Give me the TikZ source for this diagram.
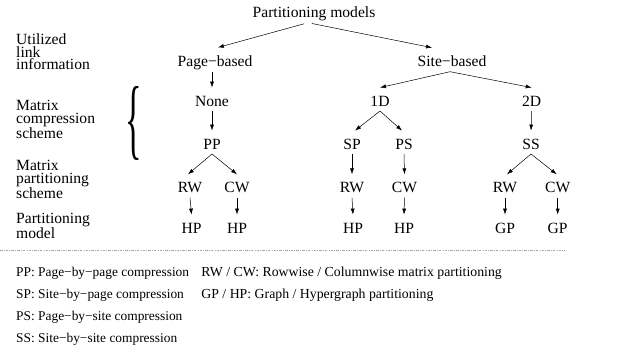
\documentclass[tikz,border=0pt]{standalone}
\usepackage{fontspec}
\usepackage{graphicx}
\setmainfont{Liberation Serif}
\usetikzlibrary{arrows.meta}
\begin{document}
\begin{tikzpicture}[x=1pt,y=-1pt,
  treenode/.style={inner xsep=1pt, inner ysep=2pt, text height=16.2pt, text depth=2.8pt,
    anchor=base, font=\fontsize{15.6}{15.6}\selectfont},
  rowlabel/.style={inner sep=0pt, anchor=north west, align=left,
    font=\fontsize{15.6}{12.4}\selectfont},
  legend/.style={inner sep=0pt, anchor=base west, font=\fontsize{13.8}{13.8}\selectfont},
  legendnarrow/.style={legend, font=\fontsize{13.4}{13.4}\selectfont},
  link/.style={line width=0.5pt, -{Latex[length=6pt,width=4pt]}},
  sep/.style={line width=0.6pt, gray!70, dash pattern=on 2.5pt off 1.2pt on 0.8pt off 1.2pt}
]
\useasboundingbox (0,0) rectangle (629,353);

% row labels
\node[rowlabel] (r1) at (16,33.6) {Utilized\\link\\information};
\node[rowlabel] (r2) at (16,100.3) {Matrix\\compression\\scheme};
\node[rowlabel] (r3) at (16,160.3) {Matrix\\partitioning\\scheme};
\node[rowlabel] (r4) at (16,212.6) {Partitioning\\model};

% brace grouping the compression levels
\node[inner sep=0pt] (br) at (133.3,123.3) {\resizebox{16.5pt}{62pt}{\{}};

% tree
\node[treenode] (pm) at (314,17.7) {Partitioning models};
\node[treenode] (pb) at (215,66.7) {Page−based};
\node[treenode] (sb) at (452,66.7) {Site−based};
\node[treenode] (none) at (212,106) {None};
\node[treenode] (d1) at (380,106) {1D};
\node[treenode] (d2) at (531.7,106) {2D};
\node[treenode] (pp) at (212,149) {PP};
\node[treenode] (sp) at (352,149) {SP};
\node[treenode] (ps) at (404,149) {PS};
\node[treenode] (ss) at (531,149) {SS};
\node[treenode] (rw1) at (190,192.7) {RW};
\node[treenode] (cw1) at (237,192.7) {CW};
\node[treenode] (rw2) at (352,192.7) {RW};
\node[treenode] (cw2) at (404.5,192.7) {CW};
\node[treenode] (rw3) at (505,192.7) {RW};
\node[treenode] (cw3) at (557.7,192.7) {CW};
\node[treenode] (hp1) at (191.5,233) {HP};
\node[treenode] (hp2) at (237,233) {HP};
\node[treenode] (hp3) at (353,233) {HP};
\node[treenode] (hp4) at (404,233) {HP};
\node[treenode] (gp1) at (505,233) {GP};
\node[treenode] (gp2) at (557.7,233) {GP};

\draw[link, shorten <=4pt, shorten >=3pt] ([xshift=-6pt]pm.south) -- (pb.north);
\draw[link, shorten <=4pt, shorten >=3pt] ([xshift=-6pt]pm.south) -- ([xshift=-17pt]sb.north);
\draw[link] ([xshift=-3pt]pb.south) -- (none.north);
\draw[link] (none.south) -- (pp.north);
\draw[link] ([xshift=-2pt]sb.south) -- (d1.north);
\draw[link] ([xshift=-2pt]sb.south) -- (d2.north);
\draw[link] (d1.south) -- ([xshift=3pt]sp.north);
\draw[link] (d1.south) -- ([xshift=-2pt]ps.north);
\draw[link] (d2.south) -- (ss.north);
\draw[link] (pp.south) -- ([xshift=-2pt]rw1.north);
\draw[link] (pp.south) -- (cw1.north);
\draw[link] (sp.south) -- (rw2.north);
\draw[link] (ps.south) -- (cw2.north);
\draw[link] (ss.south) -- ([xshift=2pt]rw3.north);
\draw[link] (ss.south) -- ([xshift=-1pt]cw3.north);
\draw[link] (rw1.south) -- (hp1.north);
\draw[link] (cw1.south) -- (hp2.north);
\draw[link] (rw2.south) -- (hp3.north);
\draw[link] (cw2.south) -- (hp4.north);
\draw[link] (rw3.south) -- (gp1.north);
\draw[link] (cw3.south) -- (gp2.north);

% separator
\draw[sep] (0,250) -- (565,250);

% legend
\node[legendnarrow] (l1) at (16,276.3) {PP: Page−by−page compression};
\node[legendnarrow] (l2) at (16,298.3) {SP: Site−by−page compression};
\node[legendnarrow] (l3) at (16,320.3) {PS: Page−by−site compression};
\node[legendnarrow] (l4) at (16,342.3) {SS: Site−by−site compression};
\node[legend] (l5) at (201.2,276.3) {RW / CW: Rowwise / Columnwise matrix partitioning};
\node[legend] (l6) at (201.2,298.3) {GP / HP: Graph / Hypergraph partitioning};
\end{tikzpicture}
\end{document}
